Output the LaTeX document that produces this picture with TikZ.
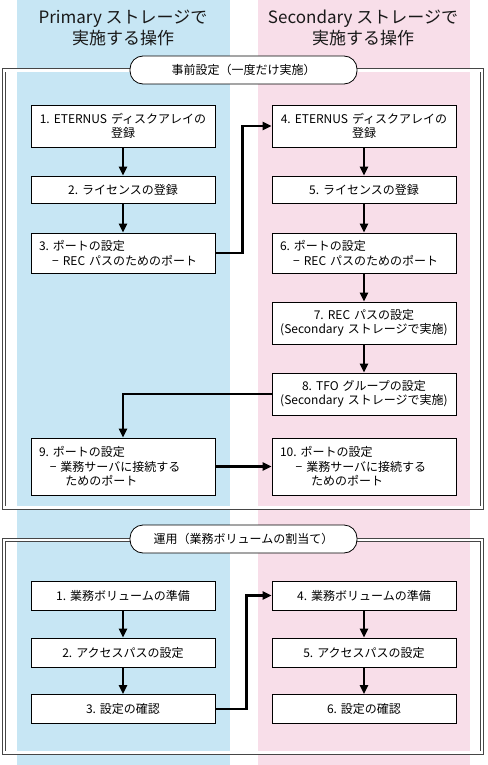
\documentclass[tikz,border=0pt]{standalone}
\usepackage{fontspec}
\setmainfont{Noto Sans CJK JP}
\usetikzlibrary{positioning,arrows.meta}
\definecolor{primblue}{RGB}{199,230,244}
\definecolor{secpink}{RGB}{248,222,233}
\definecolor{framegray}{RGB}{70,70,70}

\begin{document}
\begin{tikzpicture}[x=1pt,y=-1pt,
    every node/.style={font=\fontsize{12}{14.5}\selectfont}]
    \tikzstyle{task}=[draw, fill=white, line width=0.8pt, minimum width=184pt,
        inner sep=0pt, text width=168pt, align=center]
    \tikzstyle{pill}=[draw, fill=white, line width=0.8pt, rounded corners=13pt,
        minimum width=227pt, minimum height=28pt]
    \tikzstyle{frame}=[draw=framegray, line width=0.9pt, double=white, double distance=2.2pt]
    \tikzstyle{flow}=[draw, line width=2.2pt, -{Triangle[length=9pt,width=8pt]}]
    \tikzstyle{heading}=[font=\fontsize{17}{21}\selectfont, align=center, text=black!90]

    \useasboundingbox (0,0) rectangle (487,765);
    \fill[white] (0,0) rectangle (487,765);

    % columns
    \fill[primblue] (17,0) rectangle (230,765);
    \fill[secpink] (258,0) rectangle (470,765);
    \node[heading] (hp) at (123,28) {Primary ストレージで\\実施する操作};
    \node[heading] (hs) at (363,28) {Secondary ストレージで\\実施する操作};

    % initial settings
    \draw[frame] (4,70.5) rectangle (482,507.5);
    \node[pill] (setup) at (243.5,70) {事前設定（一度だけ実施）};

    \node[task, minimum height=42pt] (a1) at (123,126) {1.\ ETERNUS ディスクアレイの\\登録};
    \node[task, minimum height=27pt] (a2) at (123,189.5) {2.\ ライセンスの登録};
    \node[task, minimum height=40pt, align=left] (a3) at (123,253) {3.\ ポートの設定\\\hspace*{1.1em}− REC パスのためのポート};
    \node[task, minimum height=42pt] (a4) at (364,126) {4.\ ETERNUS ディスクアレイの\\登録};
    \node[task, minimum height=27pt] (a5) at (364,189.5) {5.\ ライセンスの登録};
    \node[task, minimum height=40pt, align=left] (a6) at (364,253) {6.\ ポートの設定\\\hspace*{1.1em}− REC パスのためのポート};
    \node[task, minimum height=42pt, text width=182pt] (a7) at (364,323) {7.\ REC パスの設定\\(Secondary ストレージで実施)};
    \node[task, minimum height=42pt, text width=182pt] (a8) at (364,394) {8.\ TFO グループの設定\\(Secondary ストレージで実施)};
    \node[task, minimum height=57pt, align=left] (a9) at (123,466.5) {9.\ ポートの設定\\\hspace*{0.9em}− 業務サーバに接続する\\\hspace*{2.2em}ためのポート};
    \node[task, minimum height=57pt, align=left] (a10) at (364,466.5) {10.\ ポートの設定\\\hspace*{1.3em}− 業務サーバに接続する\\\hspace*{2.6em}ためのポート};

    \path[flow] (a1) -- (a2);
    \path[flow] (a2) -- (a3);
    \path[flow] (a3.east) -- ++(27,0) |- (a4.west);
    \path[flow] (a4) -- (a5);
    \path[flow] (a5) -- (a6);
    \path[flow] (a6) -- (a7);
    \path[flow] (a7) -- (a8);
    \path[flow] (a8.west) -| (a9.north);
    \path[flow] (a9) -- (a10);

    % operation
    \draw[frame] (4,540) rectangle (482,752.5);
    \node[pill] (oper) at (243.5,539) {運用（業務ボリュームの割当て）};

    \node[task, minimum height=29pt] (b1) at (123,595.5) {1.\ 業務ボリュームの準備};
    \node[task, minimum height=29pt] (b2) at (123,652.5) {2.\ アクセスパスの設定};
    \node[task, minimum height=29pt] (b3) at (123,709) {3.\ 設定の確認};
    \node[task, minimum height=29pt] (b4) at (364,595.5) {4.\ 業務ボリュームの準備};
    \node[task, minimum height=29pt] (b5) at (364,652.5) {5.\ アクセスパスの設定};
    \node[task, minimum height=29pt] (b6) at (364,709) {6.\ 設定の確認};

    \path[flow] (b1) -- (b2);
    \path[flow] (b2) -- (b3);
    \path[flow] (b3.east) -- ++(31,0) |- (b4.west);
    \path[flow] (b4) -- (b5);
    \path[flow] (b5) -- (b6);
\end{tikzpicture}
\end{document}
